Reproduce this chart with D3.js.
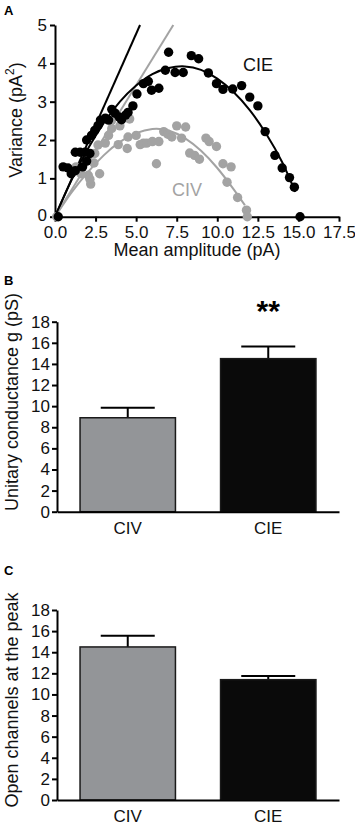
<!DOCTYPE html>
<html>
<head>
<meta charset="utf-8">
<script src="https://cdn.jsdelivr.net/npm/d3@7"></script>
<style>
  body { margin: 0; background: #fff; }
  text { font-family: "Liberation Sans", Arial, sans-serif; }
</style>
</head>
<body>
<script>
// panel A: mean-variance points [mean amplitude pA, variance pA^2]
const cieNoise = [
    [0.2, 0.0], [0.5, 1.3], [0.8, 1.27], [1.0, 1.12], [1.25, 1.2], [1.25, 1.68], [1.55, 1.68],
    [1.7, 1.3], [1.85, 1.68], [1.95, 1.45], [2.15, 1.65], [1.95, 2.0], [2.25, 2.12], [2.45, 2.25],
    [2.65, 2.38], [2.8, 2.52], [3.1, 2.57], [3.3, 2.52], [3.5, 2.8], [3.7, 2.7], [3.95, 2.6],
    [4.1, 2.53], [4.35, 2.65], [4.5, 2.72], [4.8, 2.89], [5.05, 3.2], [5.45, 3.47], [5.75, 3.53],
    [5.95, 3.3], [6.4, 3.35], [6.8, 3.82], [7.0, 4.29], [7.4, 3.76], [7.9, 3.76], [8.4, 4.2],
    [8.85, 4.12], [9.45, 3.75], [9.95, 3.47], [10.35, 3.32], [10.95, 3.33], [11.5, 3.42],
    [12.0, 3.12], [12.5, 2.89], [12.95, 2.22], [13.55, 1.6], [14.0, 1.27], [14.45, 1.02],
    [14.75, 0.77], [15.1, 0.0]
];
const civNoise = [
    [0.1, 0.0], [1.3, 1.3], [1.6, 1.12], [2.05, 1.08], [2.2, 0.85], [2.15, 0.98], [2.75, 1.12],
    [2.4, 1.4], [2.45, 1.65], [2.65, 1.87], [3.1, 1.92], [3.3, 2.12], [3.5, 2.52], [3.5, 2.3],
    [4.0, 2.37], [4.6, 2.55], [3.9, 1.88], [4.45, 1.78], [4.5, 2.08], [5.0, 2.12], [5.25, 1.88],
    [5.45, 1.92], [5.65, 1.92], [6.0, 1.96], [6.25, 1.38], [6.4, 1.96], [6.7, 2.22], [6.95, 2.15],
    [7.2, 2.08], [7.5, 2.37], [8.05, 2.34], [7.8, 2.05], [8.3, 1.66], [8.6, 1.6], [8.9, 1.5],
    [9.3, 2.05], [9.5, 1.96], [9.95, 1.83], [10.35, 1.38], [10.85, 1.3], [10.6, 0.9],
    [11.25, 0.5], [11.8, 0.17], [11.85, 0.0]
];
// fitted parabolas
const cieFit = [[0, 0], [1, 0.94], [2, 1.75], [3, 2.44], [4, 3.0], [5, 3.42], [6, 3.72], [7, 3.88],
    [8, 3.92], [9, 3.83], [10, 3.6], [11, 3.25], [12, 2.78], [13, 2.17], [14, 1.42], [14.8, 0.65]];
const civFit = [[0, 0], [1, 0.62], [2, 1.15], [3, 1.6], [4, 1.95], [5, 2.18], [6, 2.29], [7, 2.25],
    [8, 2.05], [9, 1.72], [10, 1.27], [11, 0.72], [11.7, 0.3]];
// initial slopes (unitary current)
const cieSlope = [[0, 0], [5.24, 5]];
const civSlope = [[0, 0], [7.29, 5]];
const xTicksA = [0, 2.5, 5, 7.5, 10, 12.5, 15, 17.5];
const yTicksA = [0, 1, 2, 3, 4, 5];

// panels B and C
const groups = ["CIV", "CIE"];
const conductance = [8.9, 14.5];
const conductanceSem = [0.95, 1.15];
const openChannels = [14.5, 11.4];
const openChannelsSem = [1.05, 0.35];
const yTicksBar = [0, 2, 4, 6, 8, 10, 12, 14, 16, 18];

const grey = "#a3a3a3", barGrey = "#939598";
const w = 355, h = 829;

const svg = d3.select('body').append('svg')
    .attr('width', w)
    .attr('height', h);

function axisStyle(g) {
    g.selectAll("path, line").attr("stroke", "#000").attr("stroke-width", 2);
    g.selectAll("text").attr("font-size", 17).attr("fill", "#111");
}

// ---------- A ----------
const xA = d3.scaleLinear().domain([0, 17.5]).range([55, 339]);
const yA = d3.scaleLinear().domain([0, 5]).range([216.7, 25]);

svg.append("g")
    .attr("transform", "translate(0," + yA(0) + ")")
    .call(d3.axisBottom(xA).tickValues(xTicksA).tickFormat(d3.format(".1f")).tickSize(5).tickSizeOuter(0).tickPadding(4))
    .call(axisStyle);

svg.append("g")
    .attr("transform", "translate(" + xA(0) + ",0)")
    .call(d3.axisLeft(yA).tickValues(yTicksA).tickFormat(d3.format("d")).tickSize(5).tickSizeOuter(0).tickPadding(3))
    .call(axisStyle)
    .call(function (g) { g.selectAll(".tick text").filter(function (d) { return d === 0; }).attr("dy", "0.2em"); });

const line = d3.line()
    .x(function (d) { return xA(d[0]); })
    .y(function (d) { return yA(d[1]); });
const fitLine = d3.line()
    .curve(d3.curveNatural)
    .x(function (d) { return xA(d[0]); })
    .y(function (d) { return yA(d[1]); });

svg.append("path").datum(civSlope).attr("d", line)
    .attr("fill", "none").attr("stroke", grey).attr("stroke-width", 2);
svg.append("path").datum(cieSlope).attr("d", line)
    .attr("fill", "none").attr("stroke", "#000").attr("stroke-width", 2);

svg.append("g").selectAll("circle").data(civNoise).join("circle")
    .attr("cx", function (d) { return xA(d[0]); })
    .attr("cy", function (d) { return yA(d[1]); })
    .attr("r", 4.7)
    .attr("fill", grey);

svg.append("path").datum(civFit).attr("d", fitLine)
    .attr("fill", "none").attr("stroke", grey).attr("stroke-width", 2);

svg.append("g").selectAll("circle").data(cieNoise).join("circle")
    .attr("cx", function (d) { return xA(d[0]); })
    .attr("cy", function (d) { return yA(d[1]); })
    .attr("r", 4.7)
    .attr("fill", "#000");

svg.append("path").datum(cieFit).attr("d", fitLine)
    .attr("fill", "none").attr("stroke", "#000").attr("stroke-width", 2);

svg.append("text").attr("x", 258).attr("y", 71).attr("text-anchor", "middle")
    .attr("font-size", 18).attr("fill", "#111").text("CIE");
svg.append("text").attr("x", 187).attr("y", 196).attr("text-anchor", "middle")
    .attr("font-size", 18).attr("fill", grey).text("CIV");

svg.append("text").attr("x", 197).attr("y", 256).attr("text-anchor", "middle")
    .attr("font-size", 18).attr("fill", "#111").text("Mean amplitude (pA)");

const yLabA = svg.append("text")
    .attr("transform", "translate(22,120) rotate(-90)")
    .attr("text-anchor", "middle").attr("font-size", 18).attr("fill", "#111");
yLabA.append("tspan").text("Variance (pA");
yLabA.append("tspan").attr("font-size", 12).attr("dy", -8).text("2");
yLabA.append("tspan").attr("dy", 8).text(")");

// ---------- bar panels ----------
function barPanel(values, sem, y0, y18, label, labelY, letter, letterY) {
    const x = d3.scaleBand().domain(groups).range([57, 339]).paddingInner(0.321).paddingOuter(0.164);
    const y = d3.scaleLinear().domain([0, 18]).range([y0, y18]);
    const colors = [barGrey, "#0a0a0a"];
    const rows = groups.map(function (g, i) { return { g: g, v: values[i], e: sem[i], c: colors[i] }; });

    const bars = svg.append("g");
    // error bars (upper only)
    bars.selectAll("line.stem").data(rows).join("line")
        .attr("x1", function (d) { return x(d.g) + x.bandwidth() / 2; })
        .attr("x2", function (d) { return x(d.g) + x.bandwidth() / 2; })
        .attr("y1", function (d) { return y(d.v - 0.3); })
        .attr("y2", function (d) { return y(d.v + d.e); })
        .attr("stroke", "#000").attr("stroke-width", 2);
    bars.selectAll("line.cap").data(rows).join("line")
        .attr("x1", function (d) { return x(d.g) + x.bandwidth() / 2 - 27; })
        .attr("x2", function (d) { return x(d.g) + x.bandwidth() / 2 + 27; })
        .attr("y1", function (d) { return y(d.v + d.e); })
        .attr("y2", function (d) { return y(d.v + d.e); })
        .attr("stroke", "#000").attr("stroke-width", 2);
    bars.selectAll("rect").data(rows).join("rect")
        .attr("x", function (d) { return x(d.g); })
        .attr("y", function (d) { return y(d.v); })
        .attr("width", x.bandwidth())
        .attr("height", function (d) { return y(0) - y(d.v); })
        .attr("fill", function (d) { return d.c; })
        .attr("stroke", "#1a1a1a").attr("stroke-width", 1.5);

    svg.append("g")
        .attr("transform", "translate(0," + y(0) + ")")
        .call(d3.axisBottom(x).tickSize(0).tickPadding(10))
        .call(axisStyle);

    svg.append("g")
        .attr("transform", "translate(57,0)")
        .call(d3.axisLeft(y).tickValues(yTicksBar).tickSize(5).tickSizeOuter(0).tickPadding(2))
        .call(axisStyle);

    svg.append("text")
        .attr("transform", "translate(18," + labelY + ") rotate(-90)")
        .attr("text-anchor", "middle").attr("font-size", 18).attr("fill", "#111")
        .text(label);

    svg.append("text").attr("x", 4).attr("y", letterY)
        .attr("font-size", 13).attr("font-weight", "bold").text(letter);
    return x;
}

svg.append("text").attr("x", 4).attr("y", 15)
    .attr("font-size", 13).attr("font-weight", "bold").text("A");

const xB = barPanel(conductance, conductanceSem, 511.7, 321.7, "Unitary conductance g (pS)", 402, "B", 285);
barPanel(openChannels, openChannelsSem, 800, 610, "Open channels at the peak", 700, "C", 575);

svg.append("text")
    .attr("x", xB("CIE") + xB.bandwidth() / 2).attr("y", 321)
    .attr("text-anchor", "middle").attr("font-size", 30).attr("font-weight", "bold")
    .text("**");
</script>
</body>
</html>
